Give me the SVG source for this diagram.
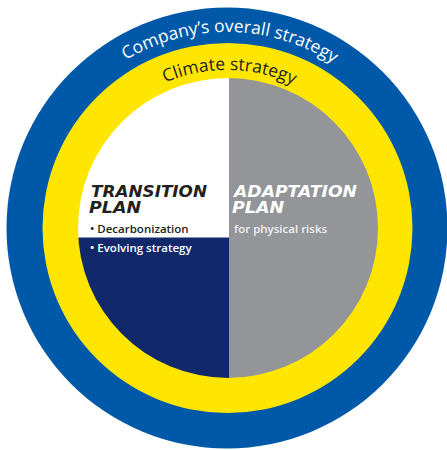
<svg xmlns="http://www.w3.org/2000/svg" width="447" height="450" viewBox="0 0 447 450">
<style>
.arc{font-family:"Open Sans","Noto Sans",sans-serif;font-size:17.5px;}
.head{font-family:"DejaVu Sans",sans-serif;font-weight:bold;font-style:italic;font-size:15px;}
.item{font-family:"Open Sans","Noto Sans",sans-serif;font-weight:600;font-size:11.5px;}
</style>
<defs>
<path id="p1" d="M31,228 A196,196 0 0 1 423,228"/>
<path id="p2" d="M69,228 A158,158 0 0 1 385,228"/>
<clipPath id="c"><circle cx="228" cy="228" r="150"/></clipPath>
</defs>
<rect width="447" height="450" fill="#fff"/>
<g id="company">
<circle cx="227" cy="228" r="220.5" fill="#0059a8"/>
<text class="arc" fill="#fff"><textPath href="#p1" startOffset="50.5%" text-anchor="middle">Company’s overall strategy</textPath></text>
</g>
<g id="climate">
<circle cx="227.5" cy="228" r="185" fill="#ffe600"/>
<text class="arc" fill="#231f20"><textPath href="#p2" startOffset="50.5%" text-anchor="middle">Climate strategy</textPath></text>
</g>
<g id="transition" clip-path="url(#c)">
<rect x="70" y="70" width="159" height="168" fill="#fff"/>
<rect x="70" y="237.5" width="159" height="150" fill="#11296b"/>
</g>
<g id="adaptation" clip-path="url(#c)">
<rect x="229" y="70" width="160" height="320" fill="#939598"/>
</g>
<g id="labels">
<text class="head" x="91" y="197" fill="#231f20" textLength="116" lengthAdjust="spacingAndGlyphs">TRANSITION</text>
<text class="head" x="89" y="213" fill="#231f20" textLength="52" lengthAdjust="spacingAndGlyphs">PLAN</text>
<text class="item" x="90" y="233" fill="#231f20">• Decarbonization</text>
<text class="item" x="90" y="252" fill="#fff">• Evolving strategy</text>
<text class="head" x="234" y="197" fill="#fff" textLength="123" lengthAdjust="spacingAndGlyphs">ADAPTATION</text>
<text class="head" x="232" y="213" fill="#fff" textLength="52" lengthAdjust="spacingAndGlyphs">PLAN</text>
<text class="item" x="234" y="233" fill="#f0f0f0" font-weight="400">for physical risks</text>
</g>
</svg>
